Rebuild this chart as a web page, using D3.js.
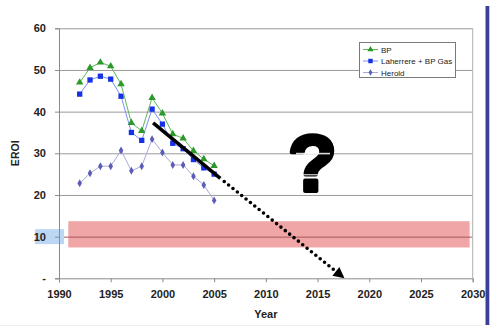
<!DOCTYPE html>
<html>
<head>
<meta charset="utf-8">
<script src="https://cdn.jsdelivr.net/npm/d3@7/dist/d3.min.js"></script>
<style>
  html, body { margin: 0; padding: 0; background: #fff; }
  svg { display: block; font-family: "Liberation Sans", Arial, sans-serif; }
</style>
</head>
<body>
<svg id="chart" width="500" height="330"></svg>
<script>
// EROI estimates for oil & gas production, 1992-2005
const years = [1992, 1993, 1994, 1995, 1996, 1997, 1998, 1999, 2000, 2001, 2002, 2003, 2004, 2005];
const bp = [47.0, 50.5, 51.8, 50.9, 46.6, 37.3, 35.4, 43.3, 39.6, 34.6, 33.6, 30.6, 28.6, 27.0];
const laherrere = [44.2, 47.6, 48.5, 47.8, 43.7, 35.0, 33.1, 40.6, 37.0, 32.4, 31.1, 28.5, 26.5, 25.0];
const herold = [22.8, 25.2, 26.9, 26.9, 30.7, 25.8, 26.9, 33.4, 30.2, 27.2, 27.2, 24.5, 22.4, 18.7];

// Trend: solid fit then dotted extrapolation to zero
const trendYears = [1999.1, 2005.6, 2017.6];
const trendValues = [37.3, 24.0, 0];

// Minimum EROI band around 10
const bandYears = [1990.9, 2029.7];
const bandValues = [7.4, 13.7];

const xTicks = [1990, 1995, 2000, 2005, 2010, 2015, 2020, 2025, 2030];
const yTicks = [0, 10, 20, 30, 40, 50, 60];
const yTickLabels = ["-", "10", "20", "30", "40", "50", "60"];

const svg = d3.select("#chart");
const pL = 59, pR = 472.7, pT = 28.3, pB = 278.3;
const x = d3.scaleLinear().domain([1990, 2030]).range([pL, pR]);
const y = d3.scaleLinear().domain([0, 60]).range([pB, pT]);

// right-hand slide bar and bottom rule
svg.append("rect").attr("x", 485.5).attr("y", 6).attr("width", 3.8).attr("height", 319).attr("fill", "#3b3f98");
svg.append("line").attr("x1", 0).attr("x2", 482).attr("y1", 325.5).attr("y2", 325.5).attr("stroke", "#eeeeee");

// band
svg.append("rect")
  .attr("x", x(bandYears[0])).attr("width", x(bandYears[1]) - x(bandYears[0]))
  .attr("y", y(bandValues[1])).attr("height", y(bandValues[0]) - y(bandValues[1]))
  .attr("fill", "#f0a5a7");

// gridlines
svg.append("g").selectAll("line").data(yTicks.filter(d => d > 0)).join("line")
  .attr("x1", pL).attr("x2", pR)
  .attr("y1", d => y(d) + 0.5).attr("y2", d => y(d) + 0.5)
  .attr("stroke", d => d === 10 ? "#a85858" : "#9a9a9a").attr("stroke-width", 1);

// right border
svg.append("line").attr("x1", pR).attr("x2", pR).attr("y1", pT).attr("y2", pB)
  .attr("stroke", "#b0b0b0");

// highlight box behind the 10 label
svg.append("rect").attr("x", 35).attr("y", y(10) - 7.5).attr("width", 29).attr("height", 15)
  .attr("fill", "#bcd7f3");

// axes
const xAxis = svg.append("g").attr("transform", `translate(0,${pB})`)
  .call(d3.axisBottom(x).tickValues(xTicks).tickFormat(d3.format("d")).tickSize(4).tickPadding(8));
const yAxis = svg.append("g").attr("transform", `translate(${pL},0)`)
  .call(d3.axisLeft(y).tickValues(yTicks).tickFormat((d, i) => yTickLabels[i]).tickSize(4).tickPadding(9));
[xAxis, yAxis].forEach(g => {
  g.selectAll(".domain").attr("stroke", "#8a8a8a");
  g.selectAll(".tick line").attr("stroke", "#8a8a8a");
  g.selectAll("text").attr("font-size", 11).attr("font-weight", "bold").attr("fill", "#222")
    .attr("font-family", "Liberation Sans, Arial, sans-serif");
});

// axis titles
svg.append("text").attr("x", (pL + pR) / 2).attr("y", 318).attr("text-anchor", "middle")
  .attr("font-size", 11).attr("font-weight", "bold").attr("fill", "#222").text("Year");
svg.append("text").attr("transform", `translate(19,${(pT + pB) / 2}) rotate(-90)`)
  .attr("text-anchor", "middle").attr("font-size", 10.5).attr("font-weight", "bold").attr("fill", "#222").text("EROI");

// series
const series = [
  { name: "BP", values: bp, line: "#5cb65c", marker: "#2a9a2a", shape: d3.symbolTriangle, size: 24 },
  { name: "Laherrere + BP Gas", values: laherrere, line: "#7d8ef0", marker: "#1530e6", shape: d3.symbolSquare, size: 28 },
  { name: "Herold", values: herold, line: "#a9aadc", marker: "#5b5cb8", shape: d3.symbolDiamond, size: 18 }
];
const line = d3.line().x(d => x(d[0])).y(d => y(d[1]));
series.slice().reverse().forEach(s => {
  const pts = years.map((yr, i) => [yr, s.values[i]]);
  svg.append("path").attr("d", line(pts)).attr("fill", "none").attr("stroke", s.line).attr("stroke-width", 1);
  svg.append("g").selectAll("path").data(pts).join("path")
    .attr("transform", d => `translate(${x(d[0])},${y(d[1])})`)
    .attr("d", d3.symbol().type(s.shape).size(s.size)).attr("fill", s.marker);
});

// trend line: solid part and dotted extrapolation
const tp = trendYears.map((yr, i) => [yr, trendValues[i]]);
svg.append("path").attr("d", line([tp[0], tp[1]])).attr("stroke", "#000").attr("stroke-width", 3.5).attr("fill", "none");
const ax = x(tp[2][0]), ay = y(tp[2][1]);
const ang = Math.atan2(ay - y(tp[1][1]), ax - x(tp[1][0]));
const headLen = 11;
svg.append("line")
  .attr("x1", x(tp[1][0]) + 5 * Math.cos(ang)).attr("y1", y(tp[1][1]) + 5 * Math.sin(ang))
  .attr("x2", ax - headLen * Math.cos(ang)).attr("y2", ay - headLen * Math.sin(ang))
  .attr("stroke", "#000").attr("stroke-width", 3.6).attr("stroke-linecap", "round")
  .attr("stroke-dasharray", "0 5.6");
const hw = 5.5;
const bx = ax - headLen * Math.cos(ang), by = ay - headLen * Math.sin(ang);
svg.append("path")
  .attr("d", `M${ax},${ay}L${bx - hw * Math.sin(ang)},${by + hw * Math.cos(ang)}L${bx + hw * Math.sin(ang)},${by - hw * Math.cos(ang)}Z`)
  .attr("fill", "#000");

// question mark
svg.append("text").attr("x", 312.5).attr("y", 191).attr("text-anchor", "middle")
  .attr("font-size", 80).attr("font-weight", "bold").attr("fill", "#000")
  .attr("stroke", "#000").attr("stroke-width", 4).attr("stroke-linejoin", "round")
  .attr("font-family", "Liberation Sans, Arial, sans-serif").text("?");
svg.append("rect").attr("x", 296).attr("y", y(30) - 0.5).attr("width", 34).attr("height", 1.6).attr("fill", "#fff").attr("opacity", 0.85);
svg.append("rect").attr("x", 300).attr("y", 174).attr("width", 22).attr("height", 1.4).attr("fill", "#fff").attr("opacity", 0.7);

// legend
const lg = svg.append("g").attr("transform", "translate(359,42)");
lg.append("rect").attr("x", 0.5).attr("y", 0.5).attr("width", 96).attr("height", 35)
  .attr("fill", "#fff").attr("stroke", "#7a7a7a");
series.forEach((s, i) => {
  const cy = 7.5 + i * 11.5;
  lg.append("line").attr("x1", 4).attr("x2", 19).attr("y1", cy).attr("y2", cy).attr("stroke", s.line);
  lg.append("path").attr("transform", `translate(11.5,${cy})`)
    .attr("d", d3.symbol().type(s.shape).size(s.size * 0.7)).attr("fill", s.marker);
  lg.append("text").attr("x", 22).attr("y", cy + 3).attr("font-size", 8).attr("fill", "#222").text(s.name);
});
</script>
</body>
</html>
